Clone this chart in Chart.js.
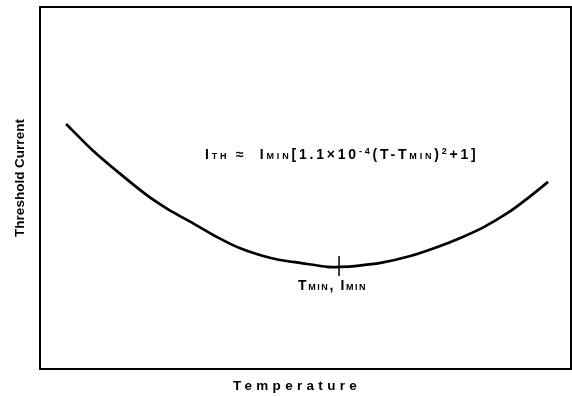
<!DOCTYPE html>
<html>
<head>
<meta charset="utf-8">
<script src="https://cdn.jsdelivr.net/npm/chart.js@4/dist/chart.umd.min.js"></script>
<style>
  html, body { margin: 0; padding: 0; background: #fff; }
  #wrap { width: 572px; height: 396px; position: relative; }
</style>
</head>
<body>
<div id="wrap"><canvas id="thresholdChart"></canvas></div>
<script>
// temperature (arbitrary units, 0-100 across the plot) and threshold current (0-100)
const temperature = [5.1, 10.0, 15.1, 20.2, 24.5, 28.9, 33.4, 37.7, 41.5, 45.3, 49.1, 54.2, 56.6, 59.8, 64.2, 69.8, 74.9, 79.2, 83.6, 88.1, 91.9, 95.7];
const thresholdCurrent = [67.7, 60.5, 54.1, 48.1, 43.9, 40.3, 36.5, 33.4, 31.5, 30.1, 29.3, 28.2, 28.2, 28.5, 29.3, 31.2, 33.7, 36.2, 39.2, 43.1, 47.2, 51.7];
// small vertical tick at the minimum
const minMarkT = [56.4, 56.4];
const minMarkI = [25.7, 31.2];

const xTitle = "Temperature";
const yTitle = "Threshold Current";
// formula pieces: [text, kind]  n = normal, sub = subscript, sup = superscript
const formula = [
  ["I", "n"], ["TH", "sub"], [" \u2248  ", "n"], ["I", "n"], ["MIN", "sub"],
  ["[1.1\u00d710", "n"], ["-4", "sup"], ["(T-T", "n"], ["MIN", "sub"],
  [")", "n"], ["2", "sup"], ["+1]", "n"]
];
const minLabel = [["T", "n"], ["MIN", "sub"], [", ", "n"], ["I", "n"], ["MIN", "sub"]];

const FONT = "Liberation Sans, Arial, sans-serif";

function drawPieces(ctx, pieces, x, y, spacing) {
  ctx.save();
  ctx.textBaseline = "alphabetic";
  ctx.textAlign = "left";
  ctx.letterSpacing = spacing + "px";
  let cx = x;
  pieces.forEach(([txt, kind]) => {
    const size = kind === "n" ? 14 : 9;
    const dy = kind === "sup" ? -5 : 0;
    ctx.font = "bold " + size + "px " + FONT;
    ctx.fillText(txt, cx, y + dy);
    cx += ctx.measureText(txt).width;
  });
  ctx.restore();
}

const decorations = {
  id: "decorations",
  afterDraw(chart) {
    const { ctx, chartArea: a } = chart;
    ctx.save();
    ctx.strokeStyle = "#000";
    ctx.lineWidth = 2;
    ctx.strokeRect(a.left + 1, a.top, a.right - a.left - 1, a.bottom - a.top);
    ctx.fillStyle = "#000";

    // axis titles
    ctx.font = "bold 13.5px " + FONT;
    ctx.letterSpacing = "4.3px";
    ctx.textAlign = "center";
    ctx.textBaseline = "alphabetic";
    ctx.fillText(xTitle, 297, 390);
    ctx.letterSpacing = "0px";
    ctx.translate(24, 178);
    ctx.rotate(-Math.PI / 2);
    ctx.fillText(yTitle, 0, 0);
    ctx.restore();

    drawPieces(ctx, formula, 205, 159, 2.8);
    drawPieces(ctx, minLabel, 298, 290, 1.6);
  }
};

new Chart(document.getElementById("thresholdChart"), {
  type: "line",
  data: {
    datasets: [
      {
        data: temperature.map((t, i) => ({ x: t, y: thresholdCurrent[i] })),
        borderColor: "#000",
        borderWidth: 2.7,
        pointRadius: 0,
        tension: 0.2,
        fill: false
      },
      {
        data: minMarkT.map((t, i) => ({ x: t, y: minMarkI[i] })),
        borderColor: "#000",
        borderWidth: 1.5,
        pointRadius: 0,
        fill: false
      }
    ]
  },
  options: {
    responsive: true,
    maintainAspectRatio: false,
    animation: false,
    layout: { padding: { left: 39, right: 1, top: 7, bottom: 27 } },
    plugins: { legend: { display: false }, tooltip: { enabled: false } },
    scales: {
      x: { type: "linear", display: false, min: 0, max: 100 },
      y: { type: "linear", display: false, min: 0, max: 100 }
    }
  },
  plugins: [decorations]
});
</script>
</body>
</html>
